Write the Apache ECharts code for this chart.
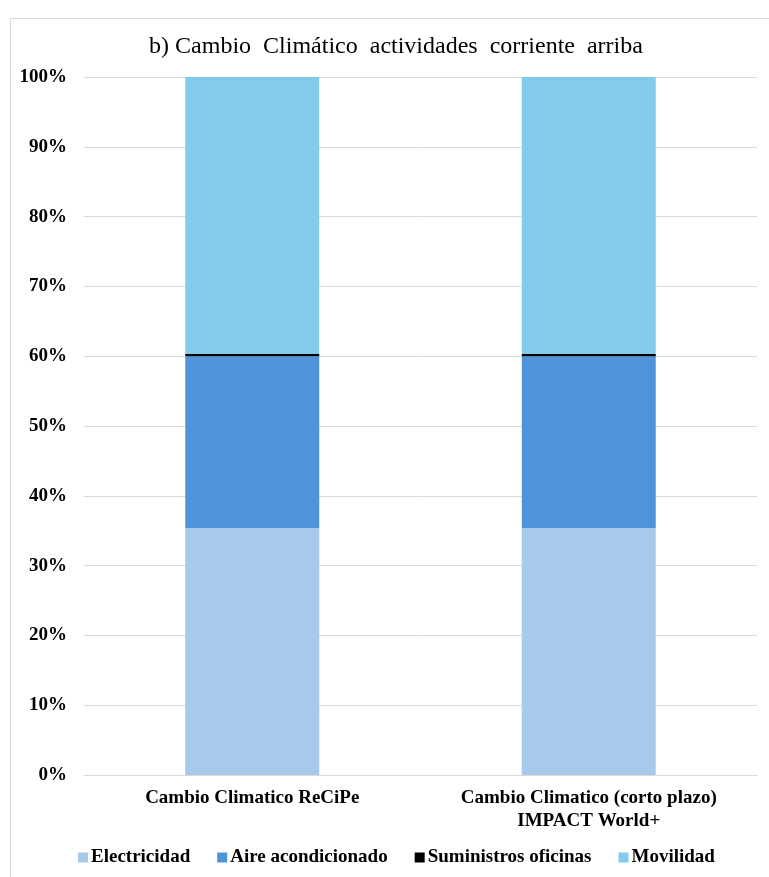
<!DOCTYPE html>
<html>
<head>
<meta charset="utf-8">
<script src="https://cdn.jsdelivr.net/npm/echarts@6/dist/echarts.min.js"></script>
<style>
  html, body { margin: 0; padding: 0; background: #fff; }
  #chart { width: 769px; height: 877px; }
</style>
</head>
<body>
<div id="chart"></div>
<script>
(function(window){
    // datos (porcentajes)
    var categories = ['Cambio Climatico ReCiPe', 'Cambio Climatico (corto plazo)\nIMPACT World+'];
    var electricidad = [35.4, 35.4];
    var aire = [24.6, 24.6];
    var suministros = [0.3, 0.3];
    var movilidad = [39.7, 39.7];
    var seriesNames = ['Electricidad', 'Aire acondicionado', 'Suministros oficinas', 'Movilidad'];
    var colors = ['#A7CAEC', '#4E94D9', '#000000', '#83CBEB'];
    var yTicks = [0, 10, 20, 30, 40, 50, 60, 70, 80, 90, 100];

    var font = '"Liberation Serif", "Times New Roman", serif';
    var values = [electricidad, aire, suministros, movilidad];

    var series = seriesNames.map(function(name, i){
        return {
            name: name,
            type: 'bar',
            stack: 'total',
            barWidth: 134,
            itemStyle: { color: colors[i] },
            data: values[i]
        };
    });

    var chart = echarts.init(document.getElementById('chart'));
    chart.setOption({
        animation: false,
        color: colors,
        title: {
            text: 'b) Cambio  Climático  actividades  corriente  arriba',
            left: 391,
            textAlign: 'center',
            top: 30,
            textStyle: { fontFamily: font, fontSize: 24, fontWeight: 'normal', color: '#000' }
        },
        graphic: [{
            type: 'rect',
            shape: { x: 10.5, y: 18.5, width: 800, height: 900 },
            style: { fill: 'none', stroke: '#d9d9d9', lineWidth: 1 },
            silent: true
        }],
        legend: {
            bottom: 5,
            left: 73,
            itemWidth: 10,
            itemHeight: 10,
            itemGap: 27,
            icon: 'rect',
            textStyle: { fontFamily: font, fontSize: 19, fontWeight: 'bold', color: '#000', padding: [0, 0, 0, -2] },
            data: seriesNames
        },
        grid: { left: 84, right: 12, top: 77, bottom: 102, containLabel: false },
        xAxis: {
            type: 'category',
            data: categories,
            axisLine: { lineStyle: { color: '#d9d9d9' } },
            axisTick: { show: false },
            axisLabel: {
                fontFamily: font, fontSize: 19, fontWeight: 'bold', color: '#000',
                margin: 12, lineHeight: 23, interval: 0
            }
        },
        yAxis: {
            type: 'value',
            min: yTicks[0],
            max: yTicks[yTicks.length - 1],
            interval: 10,
            axisLine: { show: false },
            axisTick: { show: false },
            splitLine: { lineStyle: { color: '#d9d9d9' } },
            axisLabel: {
                fontFamily: font, fontSize: 19, fontWeight: 'bold', color: '#000', margin: 17,
                formatter: function(v){ return v + '%'; }
            }
        },
        series: series
    });
})(window);
</script>
</body>
</html>
